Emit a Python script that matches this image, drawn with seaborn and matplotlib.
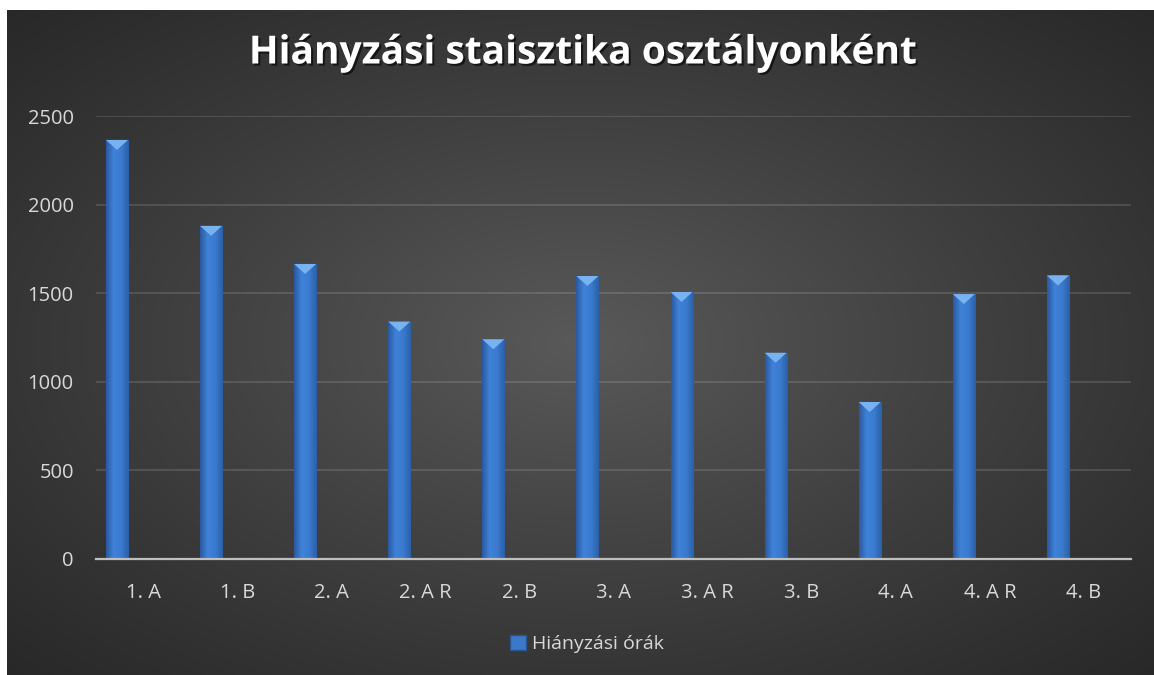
import numpy as np
import pandas as pd
import matplotlib.pyplot as plt
import seaborn as sns
from matplotlib.colors import LinearSegmentedColormap
from matplotlib.patches import Polygon, Patch
from matplotlib import patheffects as pe

# chart data
classes = ["1. A", "1. B", "2. A", "2. A R", "2. B", "3. A",
           "3. A R", "3. B", "4. A", "4. A R", "4. B"]
hours = [2365, 1880, 1665, 1340, 1240, 1597, 1507, 1164, 886, 1495, 1600]
series_name = "Hiányzási órák"
title_text = "Hiányzási staisztika osztályonként"
y_ticks = [0, 500, 1000, 1500, 2000, 2500]

W, H = 1154, 675
BAR_OFFSET = -0.277   # bars sit left of the category centre (Excel cluster)
BAR_WIDTH = 0.234
BLUE = "#3b78c8"
BLUE_EDGE = "#2b5591"
TEXT = "#d9d9d9"


def main():
    sns.set_theme(style="dark")
    plt.rcParams["font.family"] = ["Open Sans", "DejaVu Sans"]

    fig = plt.figure(figsize=(W / 100, H / 100), dpi=100, facecolor="white")

    # 1) dark panel with a soft radial gradient
    bg = fig.add_axes([7 / W, 0, 1 - 7 / W, 1 - 10 / H])
    bg.set_axis_off()
    yy, xx = np.mgrid[0:1:300j, 0:1:500j]
    r = np.sqrt(((xx - 0.5) / 0.75) ** 2 + ((yy - 0.5) / 0.75) ** 2)
    val = 0.15 + 0.2 * np.clip(1 - r, 0, 1) ** 1.1
    bg.imshow(np.dstack([val, val, val]), aspect="auto", extent=[0, 1, 0, 1])
    bg.set_xlim(0, 1)
    bg.set_ylim(0, 1)

    # 2) bars
    ax = fig.add_axes([96 / W, 1 - 559 / H, 1035 / W, 443 / H])
    ax.set_facecolor("none")

    df = pd.DataFrame({"pos": np.arange(len(classes)) + BAR_OFFSET, "hours": hours})
    sns.barplot(data=df, x="pos", y="hours", native_scale=True, width=BAR_WIDTH,
                color=BLUE, errorbar=None, ax=ax, zorder=2)

    bar_cmap = LinearSegmentedColormap.from_list("bar", ["#2a5aa0", "#3f82d8", "#3a7bcf", "#2c5fa6"])
    grad = np.linspace(0, 1, 64)[None, :]
    bevel = 10 * 2500 / 443  # ~10 px deep in data units
    for p in list(ax.patches):
        x0, w, h = p.get_x(), p.get_width(), p.get_height()
        p.set_edgecolor(BLUE_EDGE)
        p.set_linewidth(0.8)
        im = ax.imshow(grad, extent=[x0, x0 + w, 0, h], aspect="auto",
                       cmap=bar_cmap, zorder=2.1)
        im.set_clip_path(p)
        ax.add_patch(Polygon([(x0, h), (x0 + w, h), (x0 + w / 2, h - bevel)],
                             closed=True, facecolor="#78b2f0", edgecolor="none", zorder=2.2))

    ax.set_xlim(-0.5, len(classes) - 0.5)
    ax.set_ylim(0, 2500)
    ax.set_xticks(np.arange(len(classes)))
    ax.set_xticklabels(classes)
    ax.set_yticks(y_ticks)
    ax.set_xlabel("")
    ax.set_ylabel("")

    for side in ["top", "right", "left"]:
        ax.spines[side].set_visible(False)
    ax.spines["bottom"].set_color("#bfbfbf")
    ax.spines["bottom"].set_linewidth(1.6)
    ax.spines["bottom"].set_zorder(3)

    ax.yaxis.grid(True, color="white", alpha=0.15, linewidth=1.2)
    ax.xaxis.grid(False)
    ax.set_axisbelow(True)
    ax.tick_params(axis="x", length=0, pad=17, labelsize=14.5, labelcolor=TEXT)
    ax.tick_params(axis="y", length=0, pad=16, labelsize=14.5, labelcolor=TEXT)

    # 3) title and legend
    fig.text(582 / W, 1 - 53 / H, title_text, ha="center", va="center",
             fontsize=28, fontweight="bold", color="white",
             path_effects=[pe.withSimplePatchShadow(offset=(1.5, -1.5),
                                                    shadow_rgbFace="black", alpha=0.6)])

    handle = Patch(facecolor=BLUE, edgecolor=BLUE_EDGE)
    fig.legend([handle], [series_name], loc="center", bbox_to_anchor=(587 / W, 1 - 644 / H),
               frameon=False, labelcolor=TEXT, fontsize=14, handlelength=0.8,
               handleheight=0.8, handletextpad=0.3)

    fig.savefig("out.png", dpi=100)
    plt.close(fig)


if __name__ == "__main__":
    main()
